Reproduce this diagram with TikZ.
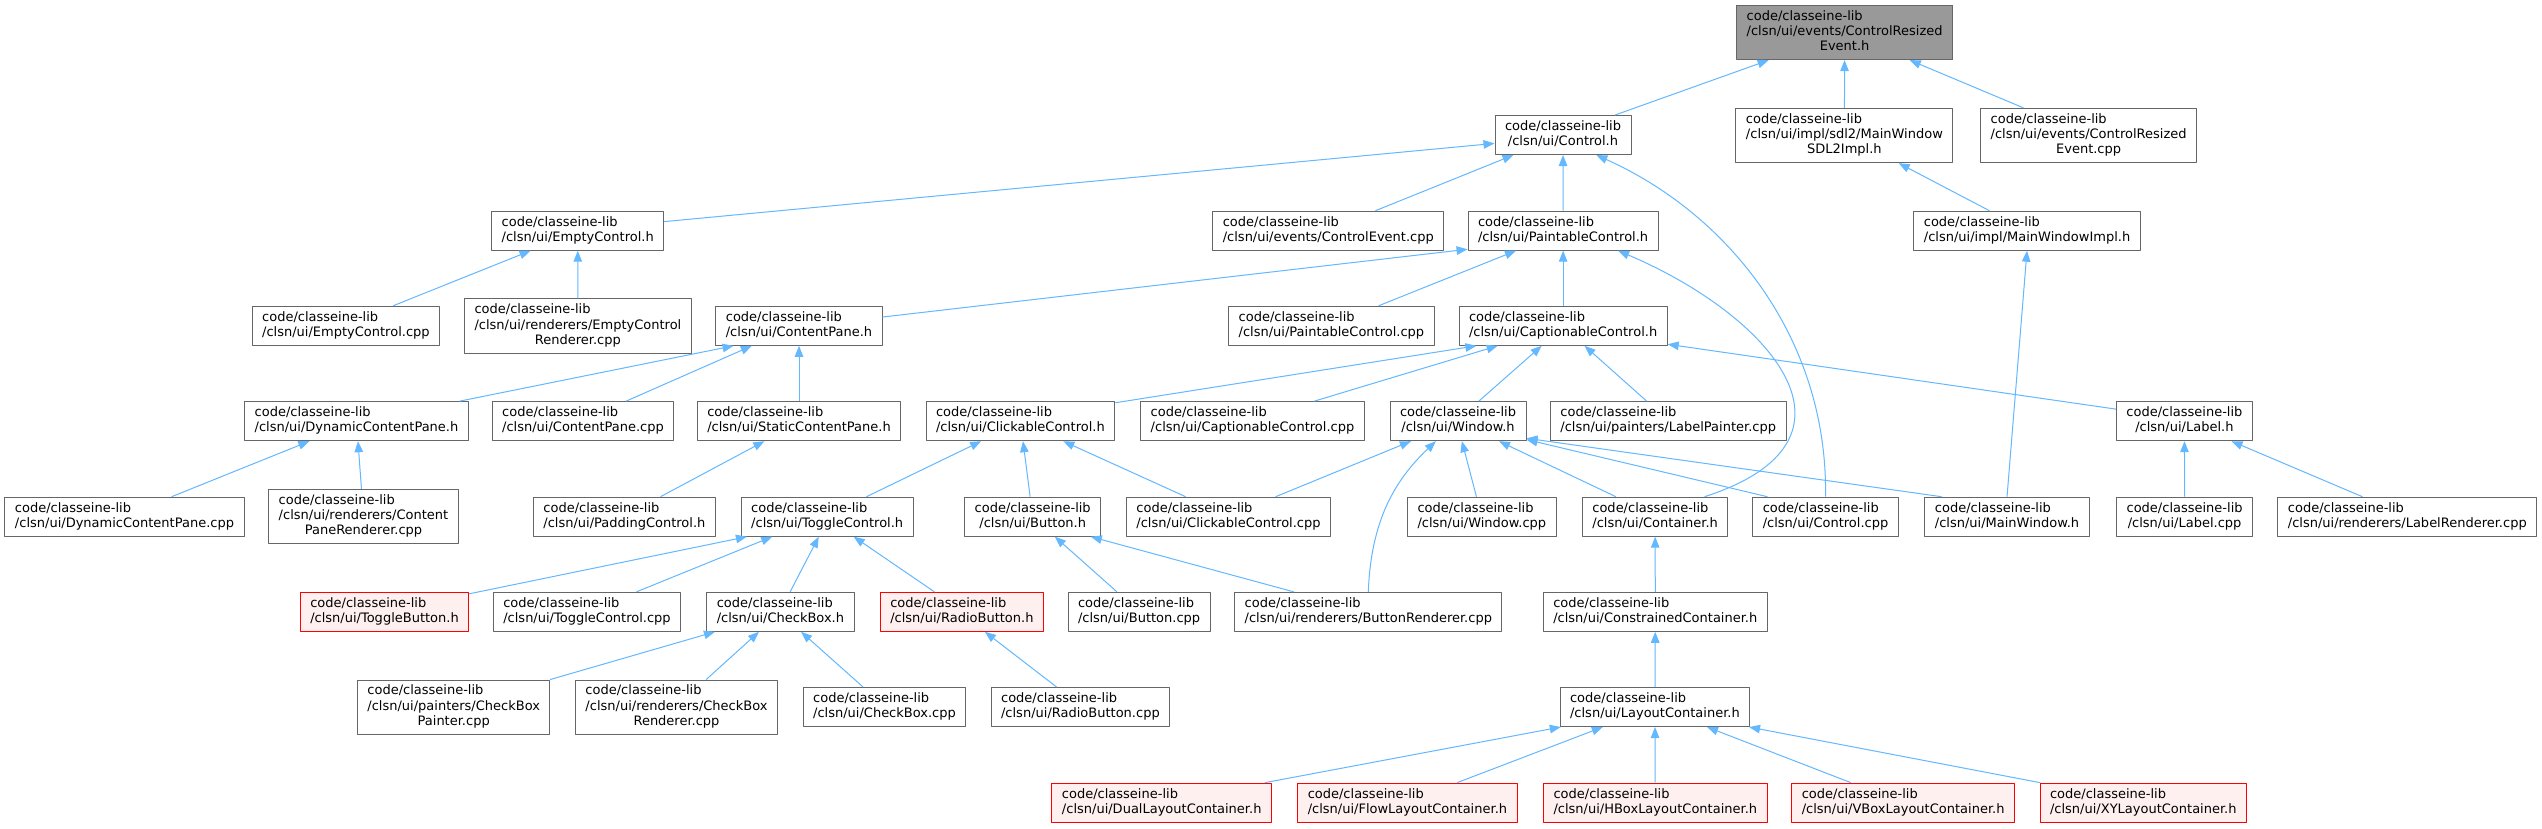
\documentclass[tikz,border=0pt]{standalone}
\usepackage{fontspec}
\setmainfont{DejaVu Sans}
\usetikzlibrary{arrows.meta}

\definecolor{boxgrey}{HTML}{666666}
\definecolor{rootgrey}{HTML}{999999}
\definecolor{missfill}{HTML}{FFF0F0}
\definecolor{edgeblue}{HTML}{63B8FF}

% file labels: first line left, the rest centred
\newcommand{\fname}[1]{\begin{tabular}{@{}l@{}}code/classeine-lib\\\multicolumn{1}{@{}c@{}}{#1}\end{tabular}}
\newcommand{\fnamex}[2]{\begin{tabular}{@{}l@{}}code/classeine-lib\\\multicolumn{1}{@{}c@{}}{#1}\\\multicolumn{1}{@{}c@{}}{#2}\end{tabular}}

\tikzset{
  file/.style={draw=boxgrey, fill=white, line width=1pt, inner xsep=10pt, inner ysep=4.2pt,
    font=\fontsize{13}{15.3}\selectfont},
  cur/.style={file, fill=rootgrey},
  miss/.style={file, draw=red, fill=missfill},
  dep/.style={draw=edgeblue, line width=1pt, -{Triangle[length=11pt,width=8.5pt]}},
}

\begin{document}
\begin{tikzpicture}[x=1pt,y=-1pt,line join=round]
\path[use as bounding box, fill=white] (0,0) rectangle (2542,828);

% row 1
\node[cur] (root) at (1844.6,32.5) {\fnamex{/clsn/ui/events/ControlResized}{Event.h}};

% row 2
\node[file] (ctrl) at (1563,135) {\fname{/clsn/ui/Control.h}};
\node[file] (sdlimpl) at (1844.4,135.5) {\fnamex{/clsn/ui/impl/sdl2/MainWindow}{SDL2Impl.h}};
\node[file] (crecpp) at (2088.6,135.5) {\fnamex{/clsn/ui/events/ControlResized}{Event.cpp}};

% row 3
\node[file] (emptyh) at (577.7,230.7) {\fname{/clsn/ui/EmptyControl.h}};
\node[file] (cevcpp) at (1328.3,230.7) {\fname{/clsn/ui/events/ControlEvent.cpp}};
\node[file] (painth) at (1563.1,230.7) {\fname{/clsn/ui/PaintableControl.h}};
\node[file] (mwimpl) at (2027,230.7) {\fname{/clsn/ui/impl/MainWindowImpl.h}};

% row 4
\node[file] (emptycpp) at (345.9,325.8) {\fname{/clsn/ui/EmptyControl.cpp}};
\node[file] (emptyrend) at (577.9,326) {\fnamex{/clsn/ui/renderers/EmptyControl}{Renderer.cpp}};
\node[file] (cpaneh) at (799,325.8) {\fname{/clsn/ui/ContentPane.h}};
\node[file] (paintcpp) at (1331.4,325.8) {\fname{/clsn/ui/PaintableControl.cpp}};
\node[file] (captionh) at (1563.1,325.8) {\fname{/clsn/ui/CaptionableControl.h}};

% row 5
\node[file] (dynpaneh) at (356.5,421.2) {\fname{/clsn/ui/DynamicContentPane.h}};
\node[file] (cpanecpp) at (583,421.2) {\fname{/clsn/ui/ContentPane.cpp}};
\node[file] (stpaneh) at (799,421.2) {\fname{/clsn/ui/StaticContentPane.h}};
\node[file] (clickh) at (1020.4,421.2) {\fname{/clsn/ui/ClickableControl.h}};
\node[file] (captioncpp) at (1252.5,421.2) {\fname{/clsn/ui/CaptionableControl.cpp}};
\node[file] (winh) at (1458,421.2) {\fname{/clsn/ui/Window.h}};
\node[file] (lblpaint) at (1668.2,421.2) {\fname{/clsn/ui/painters/LabelPainter.cpp}};
\node[file] (labelh) at (2184.4,421.2) {\fname{/clsn/ui/Label.h}};

% row 6
\node[file] (dynpanecpp) at (124.5,516.7) {\fname{/clsn/ui/DynamicContentPane.cpp}};
\node[file] (cpanerend) at (363.5,516.5) {\fnamex{/clsn/ui/renderers/Content}{PaneRenderer.cpp}};
\node[file] (paddingh) at (624.4,516.7) {\fname{/clsn/ui/PaddingControl.h}};
\node[file] (toggleh) at (827.2,516.7) {\fname{/clsn/ui/ToggleControl.h}};
\node[file] (buttonh) at (1032.7,516.7) {\fname{/clsn/ui/Button.h}};
\node[file] (clickcpp) at (1228.5,516.7) {\fname{/clsn/ui/ClickableControl.cpp}};
\node[file] (wincpp) at (1481.8,516.7) {\fname{/clsn/ui/Window.cpp}};
\node[file] (containerh) at (1655.1,516.7) {\fname{/clsn/ui/Container.h}};
\node[file] (ctrlcpp) at (1825.5,516.7) {\fname{/clsn/ui/Control.cpp}};
\node[file] (mainwinh) at (2007,516.7) {\fname{/clsn/ui/MainWindow.h}};
\node[file] (labelcpp) at (2184.6,516.7) {\fname{/clsn/ui/Label.cpp}};
\node[file] (lblrend) at (2407.3,516.7) {\fname{/clsn/ui/renderers/LabelRenderer.cpp}};

% row 7
\node[miss] (togglebtn) at (384.5,611.8) {\fname{/clsn/ui/ToggleButton.h}};
\node[file] (togglecpp) at (587,611.8) {\fname{/clsn/ui/ToggleControl.cpp}};
\node[file] (checkh) at (780.4,611.8) {\fname{/clsn/ui/CheckBox.h}};
\node[miss] (radioh) at (961.9,611.8) {\fname{/clsn/ui/RadioButton.h}};
\node[file] (buttoncpp) at (1139.1,611.8) {\fname{/clsn/ui/Button.cpp}};
\node[file] (btnrend) at (1368.3,611.8) {\fname{/clsn/ui/renderers/ButtonRenderer.cpp}};
\node[file] (constrh) at (1655.3,611.8) {\fname{/clsn/ui/ConstrainedContainer.h}};

% row 8
\node[file] (chkpaint) at (453.7,707.2) {\fnamex{/clsn/ui/painters/CheckBox}{Painter.cpp}};
\node[file] (chkrend) at (676.5,707.2) {\fnamex{/clsn/ui/renderers/CheckBox}{Renderer.cpp}};
\node[file] (checkcpp) at (884.5,707) {\fname{/clsn/ui/CheckBox.cpp}};
\node[file] (radiocpp) at (1080.4,707) {\fname{/clsn/ui/RadioButton.cpp}};
\node[file] (layouth) at (1654.9,707) {\fname{/clsn/ui/LayoutContainer.h}};

% row 9
\node[miss] (duallay) at (1161.7,802.7) {\fname{/clsn/ui/DualLayoutContainer.h}};
\node[miss] (flowlay) at (1407.4,802.7) {\fname{/clsn/ui/FlowLayoutContainer.h}};
\node[miss] (hboxlay) at (1655.3,802.7) {\fname{/clsn/ui/HBoxLayoutContainer.h}};
\node[miss] (vboxlay) at (1903.1,802.7) {\fname{/clsn/ui/VBoxLayoutContainer.h}};
\node[miss] (xylay) at (2143.3,802.7) {\fname{/clsn/ui/XYLayoutContainer.h}};

% includes (arrow points at the included file)
\draw[dep] (ctrl.21) -- (root.-160);
\draw[dep] (sdlimpl) -- (root);
\draw[dep] (crecpp.157) -- (root.-23);
\draw[dep] (emptyh.6) -- (ctrl.-173);
\draw[dep] (cevcpp.23) -- (ctrl.-158);
\draw[dep] (painth) -- (ctrl);
\draw[dep] (ctrlcpp.north) .. controls (1828,340) and (1730,215) .. (ctrl.-31);
\draw[dep] (mwimpl.152) -- (sdlimpl.-27);
\draw[dep] (mainwinh.north) -- (mwimpl.south);
\draw[dep] (emptycpp.23) -- (emptyh.-157);
\draw[dep] (emptyrend) -- (emptyh);
\draw[dep] (cpaneh.6) -- (painth.-169);
\draw[dep] (paintcpp.23) -- (painth.-157);
\draw[dep] (captionh) -- (painth);
\draw[dep] (containerh.22) .. controls (1880,440) and (1770,315) .. (painth.-20);
\draw[dep] (dynpaneh.11) -- (cpaneh.-163);
\draw[dep] (cpanecpp.25) -- (cpaneh.-157);
\draw[dep] (stpaneh) -- (cpaneh);
\draw[dep] (clickh.11) -- (captionh.-167);
\draw[dep] (captioncpp.18) -- (captionh.-163);
\draw[dep] (winh.44) -- (captionh.-137);
\draw[dep] (lblpaint.137) -- (captionh.-43);
\draw[dep] (labelh.170) -- (captionh.-10);
\draw[dep] (dynpanecpp.23) -- (dynpaneh.-157);
\draw[dep] (cpanerend) -- (dynpaneh);
\draw[dep] (paddingh.29) -- (stpaneh.-150);
\draw[dep] (toggleh.27) -- (clickh.-153);
\draw[dep] (buttonh) -- (clickh);
\draw[dep] (clickcpp.155) -- (clickh.-25);
\draw[dep] (clickcpp.23) -- (winh.-157);
\draw[dep] (btnrend.north) .. controls (1371,520) and (1395,480) .. (winh.-138);
\draw[dep] (wincpp.105) -- (winh.-79);
\draw[dep] (containerh.153) -- (winh.-26);
\draw[dep] (ctrlcpp.161) -- (winh.-15);
\draw[dep] (mainwinh.163) -- (winh.-14);
\draw[dep] (labelcpp) -- (labelh);
\draw[dep] (lblrend.156) -- (labelh.-23);
\draw[dep] (togglebtn.12) -- (toggleh.-166);
\draw[dep] (togglecpp.22) -- (toggleh.-160);
\draw[dep] (checkh.64) -- (toggleh.-113);
\draw[dep] (radioh.144) -- (toggleh.-37);
\draw[dep] (buttoncpp.138) -- (buttonh.-42);
\draw[dep] (btnrend.165) -- (buttonh.-19);
\draw[dep] (constrh) -- (containerh);
\draw[dep] (chkpaint.16) -- (checkh.-163);
\draw[dep] (chkrend.43) -- (checkh.-137);
\draw[dep] (checkcpp.137) -- (checkh.-44);
\draw[dep] (radiocpp.140) -- (radioh.-41);
\draw[dep] (layouth) -- (constrh);
\draw[dep] (duallay.11) -- (layouth.-168);
\draw[dep] (flowlay.22) -- (layouth.-159);
\draw[dep] (hboxlay) -- (layouth);
\draw[dep] (vboxlay.159) -- (layouth.-21);
\draw[dep] (xylay.169) -- (layouth.-12);

\end{tikzpicture}
\end{document}
